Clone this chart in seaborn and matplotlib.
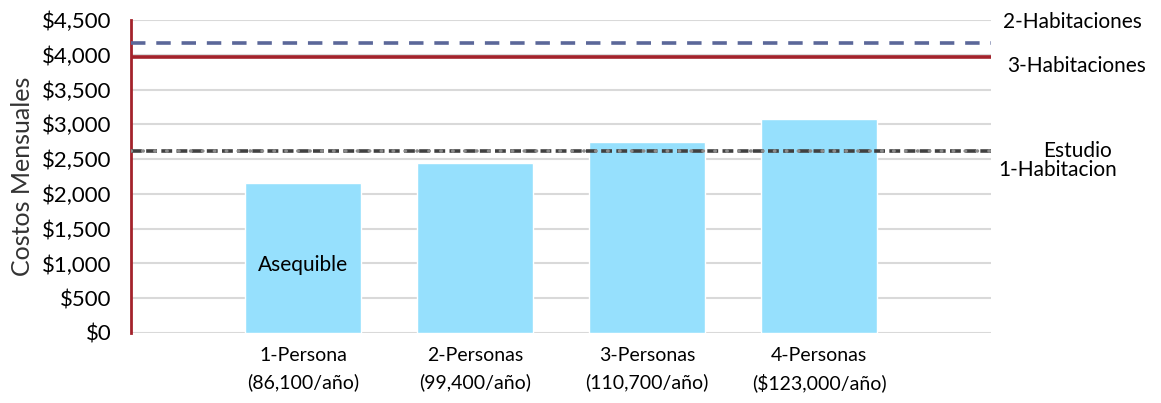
import pandas as pd
import matplotlib
matplotlib.use("Agg")
import matplotlib.pyplot as plt
import matplotlib.transforms as mtransforms
import seaborn as sns

sns.set_theme(style="white")
plt.rcParams['font.family'] = ['Lato', 'DejaVu Sans']
plt.rcParams['text.color'] = 'black'

# datos
hogares = ['1-Persona\n(86,100/año)', '2-Personas\n(99,400/año)',
           '3-Personas\n(110,700/año)', '4-Personas\n($123,000/año)']
asequible = [2150, 2450, 2750, 3070]

renta_nombres = ['2-Habitaciones', '3-Habitaciones', 'Estudio', '1-Habitacion']
renta_valores = [4170, 3970, 2620, 2620]

df = pd.DataFrame({'hogar': hogares, 'costo': asequible})

fig = plt.figure(figsize=(11.61, 4.03), dpi=100)
ax = fig.add_axes([0.1128, 0.1737, 0.7408, 0.7767])

sns.barplot(data=df, x='hogar', y='costo', color='#96E0FD', saturation=1,
            width=0.67, ax=ax, zorder=2)

# lineas de renta
estilos = [dict(color='#5B6799', ls=(0, (4, 3)), lw=2.6),
           dict(color='#A3222B', ls='-', lw=2.6),
           dict(color='#404040', ls=(0, (3, 1.2)), lw=2.6),
           dict(color='#8C8C8C', ls=(0, (0.1, 3.2)), lw=2.6, dash_capstyle='round')]
for val, est in zip(renta_valores, estilos):
    ax.axhline(val, zorder=3, **est)

ax.set_xlim(-1, 4)
ax.set_ylim(0, 4500)
ax.set_yticks(range(0, 4501, 500))
ax.set_yticklabels([f'${v:,}' for v in range(0, 4501, 500)])
ax.grid(axis='y', color='#D9D9D9', lw=1.5, zorder=0)
ax.set_axisbelow(True)
for s in ['top', 'right', 'bottom']:
    ax.spines[s].set_visible(False)
ax.spines['left'].set_color('#A3222B')
ax.spines['left'].set_linewidth(2)

ax.tick_params(axis='y', labelsize=16, length=0, pad=14, colors='black')
ax.tick_params(axis='x', labelsize=14, length=0, pad=10, colors='black')
for t in ax.get_xticklabels():
    t.set_linespacing(1.6)
ax.set_xlabel('')
ax.set_ylabel('Costos Mensuales', fontsize=18, color='#333333', labelpad=6)

ax.text(0, 980, 'Asequible', ha='center', va='center', fontsize=15, zorder=4)

# etiquetas a la derecha
trans = mtransforms.blended_transform_factory(ax.transAxes, ax.transData)
pos_etiquetas = [(1.014, 4470), (1.019, 3840), (1.060, 2620), (1.008, 2340)]
for nombre, (xp, yp) in zip(renta_nombres, pos_etiquetas):
    ax.text(xp, yp, nombre, transform=trans, ha='left', va='center',
            fontsize=15, clip_on=False)

fig.savefig('out.png', dpi=100)
